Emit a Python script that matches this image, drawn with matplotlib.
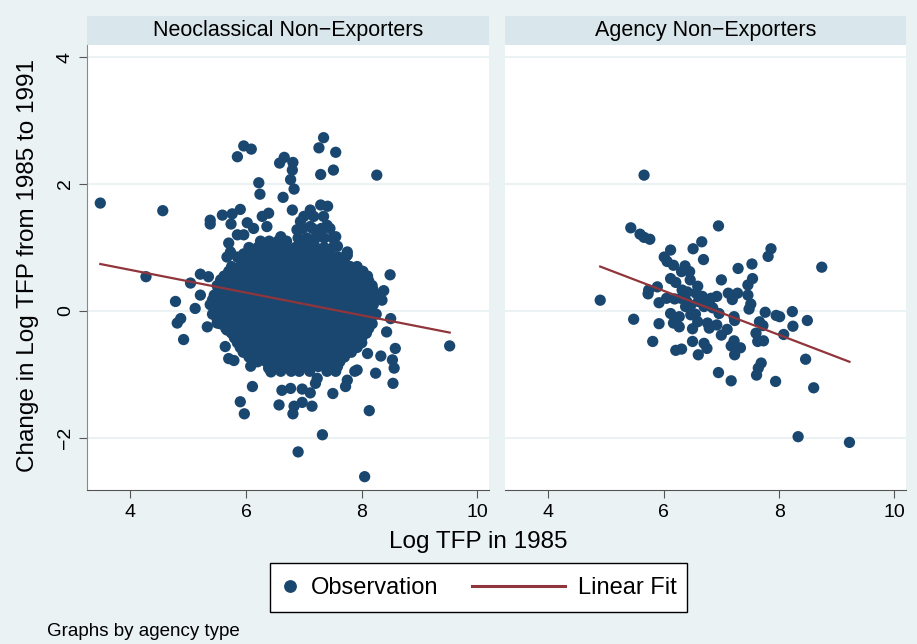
import matplotlib
matplotlib.use('Agg')
import matplotlib.pyplot as plt
from matplotlib.lines import Line2D
from matplotlib.patches import Rectangle

plt.rcParams['font.family'] = ['Liberation Sans', 'DejaVu Sans']

# Neoclassical non-exporters: outlying points
neo_out_x = [3.48, 4.56, 4.27, 7.34, 7.26, 7.55, 5.96, 6.09, 5.85, 7.29, 7.51, 8.26,
             6.66, 6.58, 6.81, 6.80, 6.77, 6.83, 6.64, 6.22, 6.24, 6.80,
             5.38, 5.38, 5.59, 5.76, 5.90, 5.74, 6.02, 6.28, 6.39, 6.36, 6.13, 5.85, 5.96,
             5.70, 5.73, 5.67, 5.96,
             7.29, 7.41, 7.11, 7.00, 7.17, 7.34, 6.94, 7.40, 7.11, 6.88, 7.29, 7.55, 7.58,
             6.94, 7.17, 6.60, 7.75, 7.75, 6.54,
             5.21, 5.35, 5.56, 5.04, 5.21, 4.78, 5.12, 4.87, 4.81, 4.92, 5.33, 5.50, 5.67,
             5.64, 5.70, 5.79, 6.08, 6.13, 6.39, 6.43, 6.11, 5.90, 5.97,
             6.62, 6.77, 6.97, 7.11, 6.57, 6.83, 6.97, 7.14, 6.81, 7.32, 8.13, 7.50, 7.72,
             7.23, 7.20, 8.05, 6.90,
             8.49, 8.38, 8.35, 8.50, 8.58, 8.54, 9.52, 8.15, 8.43, 8.53, 8.56, 8.24, 8.07,
             8.10, 8.33, 7.86, 7.92, 7.75]
neo_out_y = [1.70, 1.58, 0.54, 2.73, 2.57, 2.50, 2.60, 2.55, 2.43, 2.15, 2.22, 2.14,
             2.42, 2.33, 2.34, 2.22, 2.07, 1.92, 1.79, 2.02, 1.84, 1.59,
             1.43, 1.37, 1.51, 1.53, 1.60, 1.37, 1.39, 1.49, 1.54, 1.33, 1.30, 1.20, 1.20,
             1.07, 0.93, 0.85, 0.90,
             1.67, 1.65, 1.59, 1.49, 1.49, 1.49, 1.41, 1.35, 1.33, 1.28, 1.25, 1.17, 1.02,
             1.09, 1.07, 1.17, 0.93, 0.88, 1.04,
             0.58, 0.54, 0.49, 0.44, 0.25, 0.15, 0.04, -0.12, -0.19, -0.45, -0.25, -0.19, -0.30,
             -0.56, -0.75, -0.78, -0.87, -0.73, -0.90, -0.96, -1.19, -1.43, -1.62,
             -1.25, -1.22, -1.23, -1.29, -1.48, -1.50, -1.44, -1.50, -1.62, -1.95, -1.57, -1.30, -1.19,
             -1.06, -1.14, -2.61, -2.22,
             0.57, 0.32, 0.17, -0.12, -0.59, -1.14, -0.55, 0.28, -0.33, -0.77, -0.90, -0.98, 0.54,
             -0.67, -0.71, 0.67, -0.93, -1.09]

# Neoclassical non-exporters: dense core, row by row (y: list of x)
neo_core = {
    1.30: [6.98, 7.15, 7.30, 7.45],
    1.15: [6.90, 7.05, 7.20, 7.35, 7.50],
    1.10: [6.25, 6.40, 6.55, 6.70],
    1.00: [6.05, 6.20, 6.38, 6.52, 6.70, 6.85, 7.02, 7.20, 7.35, 7.50],
    0.925: [6.12, 6.30, 6.45, 6.60, 6.78, 6.92, 7.10, 7.25, 7.45],
    0.85: [5.85, 6.00, 6.15, 6.32, 6.48, 6.62, 6.80, 6.95, 7.10, 7.28, 7.42, 7.60, 7.72],
    0.775: [5.92, 6.08, 6.25, 6.40, 6.55, 6.72, 6.88, 7.05, 7.20, 7.35, 7.52, 7.68],
    0.70: [5.75, 5.90, 6.08, 6.22, 6.40, 6.55, 6.70, 6.88, 7.02, 7.18, 7.33, 7.50, 7.65, 7.80, 7.92],
    0.625: [5.70, 5.88, 6.02, 6.18, 6.35, 6.50, 6.68, 6.82, 6.98, 7.15, 7.30, 7.45, 7.60, 7.75, 7.90, 8.02],
    0.55: [5.62, 5.80, 5.95, 6.12, 6.28, 6.45, 6.60, 6.75, 6.90, 7.08, 7.22, 7.38, 7.52, 7.68, 7.82, 7.98, 8.10],
    0.475: [5.58, 5.75, 5.90, 6.08, 6.22, 6.40, 6.55, 6.72, 6.88, 7.02, 7.18, 7.35, 7.50, 7.65, 7.82, 7.95, 8.12],
    0.40: [5.50, 5.68, 5.85, 6.00, 6.18, 6.32, 6.50, 6.65, 6.82, 6.98, 7.12, 7.30, 7.45, 7.60, 7.75, 7.90, 8.05, 8.18],
    0.325: [5.52, 5.70, 5.85, 6.02, 6.18, 6.35, 6.50, 6.65, 6.80, 6.98, 7.12, 7.28, 7.45, 7.60, 7.75, 7.90, 8.05, 8.20],
    0.25: [5.45, 5.60, 5.78, 5.92, 6.10, 6.25, 6.42, 6.58, 6.72, 6.90, 7.05, 7.20, 7.38, 7.52, 7.68, 7.82, 7.98, 8.12, 8.25],
    0.175: [5.42, 5.52, 5.68, 5.85, 6.00, 6.15, 6.32, 6.48, 6.62, 6.78, 6.95, 7.10, 7.25, 7.42, 7.58, 7.72, 7.88, 8.02, 8.15],
    0.10: [5.38, 5.55, 5.70, 5.88, 6.02, 6.20, 6.35, 6.50, 6.68, 6.82, 7.00, 7.15, 7.30, 7.48, 7.62, 7.78, 7.92, 8.08, 8.20],
    0.025: [5.48, 5.62, 5.80, 5.95, 6.12, 6.28, 6.42, 6.60, 6.75, 6.92, 7.08, 7.22, 7.40, 7.55, 7.70, 7.85, 8.00, 8.15],
    -0.05: [5.42, 5.60, 5.75, 5.92, 6.08, 6.22, 6.40, 6.55, 6.72, 6.88, 7.02, 7.18, 7.35, 7.50, 7.65, 7.82, 7.95, 8.10, 8.25],
    -0.125: [5.50, 5.65, 5.80, 5.95, 6.12, 6.28, 6.45, 6.60, 6.75, 6.90, 7.08, 7.22, 7.38, 7.55, 7.70, 7.85, 8.00, 8.15],
    -0.20: [5.55, 5.70, 5.85, 6.00, 6.18, 6.32, 6.48, 6.65, 6.80, 6.95, 7.12, 7.28, 7.42, 7.58, 7.72, 7.88, 8.02, 8.18],
    -0.275: [5.65, 5.80, 5.95, 6.12, 6.28, 6.42, 6.58, 6.75, 6.90, 7.05, 7.22, 7.38, 7.52, 7.68, 7.82, 7.98, 8.12],
    -0.35: [5.75, 5.90, 6.05, 6.22, 6.38, 6.52, 6.70, 6.85, 7.00, 7.15, 7.32, 7.48, 7.62, 7.78, 7.92, 8.08],
    -0.425: [5.80, 5.95, 6.12, 6.28, 6.45, 6.60, 6.75, 6.92, 7.08, 7.22, 7.38, 7.55, 7.70, 7.85, 8.00],
    -0.50: [5.85, 6.00, 6.15, 6.30, 6.48, 6.62, 6.78, 6.92, 7.08, 7.25, 7.40, 7.55, 7.70, 7.85, 8.00],
    -0.575: [5.90, 6.05, 6.22, 6.38, 6.52, 6.70, 6.85, 7.00, 7.15, 7.32, 7.48, 7.62, 7.78, 7.92],
    -0.65: [5.95, 6.10, 6.28, 6.42, 6.58, 6.75, 6.90, 7.05, 7.20, 7.38, 7.52, 7.68, 7.82],
    -0.725: [6.05, 6.22, 6.38, 6.55, 6.72, 6.88, 7.02, 7.18, 7.35, 7.52, 7.70],
    -0.80: [6.20, 6.35, 6.52, 6.68, 6.85, 7.00, 7.15, 7.32, 7.48, 7.62],
    -0.875: [6.45, 6.60, 6.78, 6.95, 7.08, 7.25, 7.40, 7.58],
    -0.95: [6.60, 6.78, 6.92, 7.10, 7.40, 7.55, 7.88],
}

neo_fit_x = [3.48, 9.52]
neo_fit_y = [0.74, -0.34]

# Agency non-exporters
agy_x = [5.66, 5.43, 5.59, 5.66, 5.76, 6.95, 6.12, 6.51, 6.66, 6.69, 6.01, 6.06, 6.17, 6.37,
         6.31, 7.29, 7.53, 7.86, 7.81, 8.74, 7.00, 7.54, 7.46, 6.12, 6.21, 6.46, 6.59, 5.89,
         5.74, 5.73, 4.90, 5.92, 6.19, 6.32, 6.41, 6.56, 6.67, 6.82, 6.92, 7.12, 7.28, 7.46,
         7.19, 7.51, 7.48, 6.47, 6.38, 6.70, 6.79, 6.96, 6.12, 6.27, 6.47, 5.48, 5.92, 6.17,
         6.27, 6.50, 6.59, 6.76, 6.79, 6.92, 7.22, 7.23, 7.10, 7.00, 7.76, 7.95, 8.01, 8.23,
         8.49, 8.24, 7.66, 7.72, 8.08, 7.60, 7.63, 7.73, 5.81, 6.50, 6.70, 6.75, 6.21, 6.31,
         6.60, 7.22, 7.17, 7.33, 7.23, 8.46, 7.69, 7.64, 7.61, 6.95, 7.17, 7.94, 8.60, 8.33,
         9.22, 6.45, 6.40, 6.60, 6.55, 6.85, 6.30, 6.05]
agy_y = [2.14, 1.31, 1.21, 1.16, 1.13, 1.34, 0.96, 0.98, 1.09, 0.81, 0.85, 0.78, 0.72, 0.71,
         0.62, 0.67, 0.74, 0.98, 0.86, 0.69, 0.49, 0.51, 0.41, 0.51, 0.45, 0.49, 0.39, 0.38,
         0.33, 0.27, 0.17, 0.13, 0.19, 0.33, 0.30, 0.28, 0.23, 0.20, 0.23, 0.28, 0.28, 0.25,
         0.18, 0.11, 0.03, 0.09, 0.07, 0.07, 0.12, -0.04, -0.04, -0.09, -0.06, -0.13, -0.20, -0.19,
         -0.25, -0.28, -0.17, -0.19, -0.27, -0.22, -0.09, -0.15, -0.29, -0.38, -0.02, -0.07, -0.09, -0.01,
         -0.15, -0.24, -0.17, -0.23, -0.37, -0.35, -0.48, -0.47, -0.48, -0.48, -0.51, -0.59, -0.62, -0.60,
         -0.69, -0.47, -0.55, -0.58, -0.69, -0.76, -0.82, -0.90, -1.01, -0.97, -1.10, -1.11, -1.21, -1.98,
         -2.07, 0.62, 0.15, 0.15, -0.05, 0.05, 0.20, 0.20]

agy_fit_x = [4.90, 9.22]
agy_fit_y = [0.70, -0.80]

panel_titles = ['Neoclassical Non\u2212Exporters', 'Agency Non\u2212Exporters']
x_ticks = [4, 6, 8, 10]
y_ticks = [-2, 0, 2, 4]

bg = '#EAF2F3'
strip_col = '#D9E6EB'
dot_col = '#1A476F'
line_col = '#90353B'

neo_x = list(neo_out_x)
neo_y = list(neo_out_y)
for yv, xs in neo_core.items():
    neo_x += xs
    neo_y += [yv] * len(xs)

fig = plt.figure(figsize=(9.17, 6.44), dpi=100, facecolor=bg)

W, H = 917, 644
panels = [(87, 402, neo_x, neo_y, neo_fit_x, neo_fit_y),
          (505, 401, agy_x, agy_y, agy_fit_x, agy_fit_y)]
top, bottom = 45, 490

for i, (left, width, xs, ys, fx, fy) in enumerate(panels):
    ax = fig.add_axes([left / W, 1 - bottom / H, width / W, (bottom - top) / H])
    ax.set_facecolor('white')
    ax.scatter(xs, ys, s=66, color=dot_col, edgecolors='none', zorder=3)
    ax.plot(fx, fy, color=line_col, lw=1.6, zorder=4)
    ax.set_xlim(3.25, 10.2)
    ax.set_ylim(-2.82, 4.19)
    ax.set_xticks(x_ticks)
    ax.set_yticks(y_ticks)
    ax.grid(axis='y', color=bg, lw=1.5, zorder=0)
    for s in ['top', 'right']:
        ax.spines[s].set_visible(False)
    ax.spines['bottom'].set_color('#555555')
    ax.tick_params(axis='x', labelsize=14, length=6, color='#555555', pad=4)
    if i == 0:
        ax.spines['left'].set_color('#888888')
        ax.tick_params(axis='y', labelsize=14, length=6, color='#555555', labelrotation=90)
        for lab in ax.get_yticklabels():
            lab.set_va('center')
    else:
        ax.spines['left'].set_visible(False)
        ax.tick_params(axis='y', left=False, labelleft=False)

    sax = fig.add_axes([left / W, 1 - top / H, width / W, 29 / H])
    sax.set_facecolor(strip_col)
    sax.set_xticks([])
    sax.set_yticks([])
    for s in sax.spines.values():
        s.set_visible(False)
    sax.text(0.5, 0.5, panel_titles[i], ha='center', va='center', fontsize=15.5,
             transform=sax.transAxes)

fig.text(28 / W, 1 - 265 / H, 'Change in Log TFP from 1985 to 1991', rotation=90,
         ha='center', va='center', fontsize=17.5)
fig.text(478 / W, 1 - 542 / H, 'Log TFP in 1985', ha='center', va='center', fontsize=17.5)
fig.text(47 / W, 1 - 631 / H, 'Graphs by agency type', ha='left', va='center', fontsize=13.5)

# legend: white box with two entries
fig.patches.append(Rectangle((270 / W, 1 - 612 / H), 417 / W, 49 / H, transform=fig.transFigure,
                             facecolor='white', edgecolor='black', lw=1.0, zorder=1))
obs_handle = Line2D([], [], marker='o', ls='none', color=dot_col, markersize=8.2)
fit_handle = Line2D([], [], color=line_col, lw=2.2)
leg1 = fig.legend([obs_handle], ['Observation'], loc='center left',
                  bbox_to_anchor=(270 / W, 1 - 588 / H), fontsize=17, frameon=False,
                  handlelength=0.9, handletextpad=0.45, borderaxespad=0)
leg2 = fig.legend([fit_handle], ['Linear Fit'], loc='center left',
                  bbox_to_anchor=(463 / W, 1 - 588 / H), fontsize=17, frameon=False,
                  handlelength=3.9, handletextpad=0.55, borderaxespad=0)

fig.savefig('out.png', dpi=100, facecolor=bg)
